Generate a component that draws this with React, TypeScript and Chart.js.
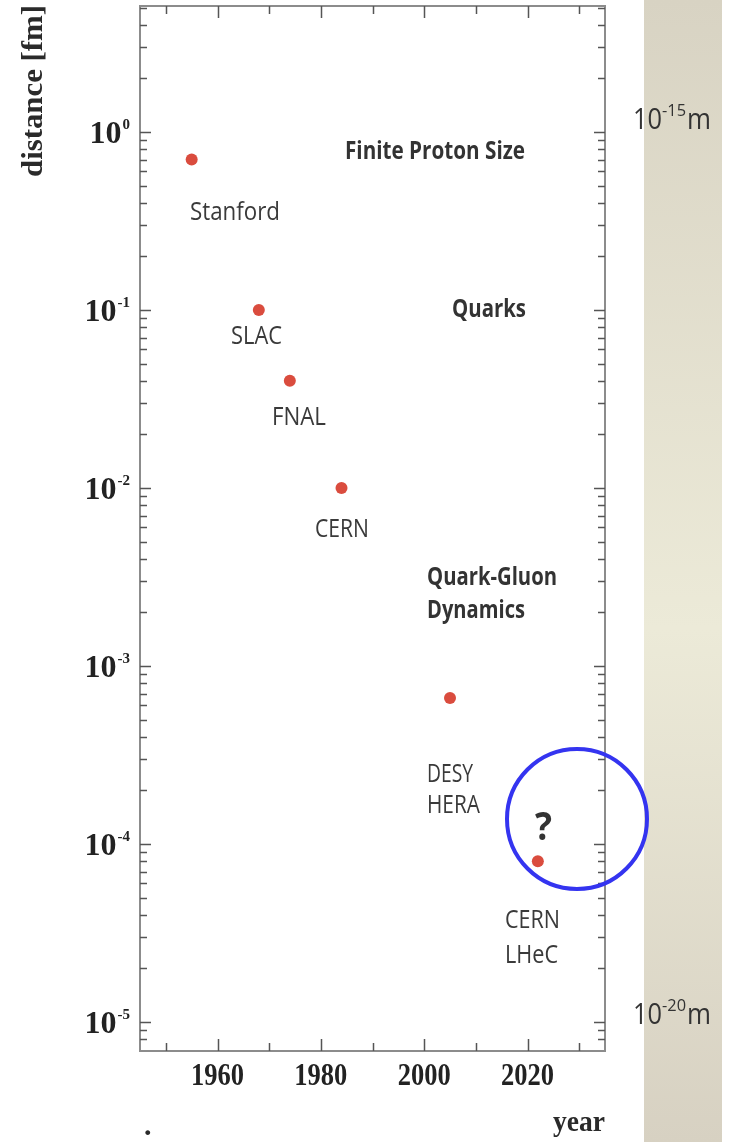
import React, { useEffect, useRef } from "react";
import { Chart, registerables } from "chart.js";

Chart.register(...registerables);

// ---------- data ----------
const experiments = ["Stanford", "SLAC", "FNAL", "CERN", "DESY\nHERA", "CERN\nLHeC"];
const years = [1955, 1968, 1974, 1984, 2005, 2022];
const distancesFm = [0.7, 0.1, 0.04, 0.01, 0.00066, 0.00008];

const xMajorYears = [1960, 1980, 2000, 2020];
const xMinorYears = [1950, 1970, 1990, 2010, 2030];
const xTickLabels = ["1960", "1980", "2000", "2020"];

const yDecades = [1, 0.1, 0.01, 0.001, 0.0001, 0.00001];
const yTickExponents = ["0", "-1", "-2", "-3", "-4", "-5"];
const yMinorMultipliers = [2, 3, 4, 5, 6, 7, 8, 9];

const regionLabels = ["Finite Proton Size", "Quarks", "Quark-Gluon\nDynamics"];
const meterExponents = ["-15", "-20"];

const X_MIN = 1945;
const X_MAX = 2035;
const Y_MIN = 6.87e-6;
const Y_MAX = 5.1;

// ---------- layout (pixels) ----------
const W = 732;
const H = 1142;
const AREA = { left: 140, top: 6, right: 605, bottom: 1051 };

const expLabelLayout = [
  { x: 190, y: [220], w: [90] },
  { x: 231, y: [344], w: [51] },
  { x: 272, y: [425], w: [54] },
  { x: 315, y: [537], w: [54] },
  { x: 427, y: [782, 813], w: [46, 53] },
  { x: 505, y: [928, 963], w: [55, 53] },
];
const regionLayout = [
  { x: 345, y: [159], w: [180] },
  { x: 452, y: [317], w: [74] },
  { x: 427, y: [585, 618], w: [130, 98] },
];
const meterLayout = [{ y: 129 }, { y: 1024 }];

const SANS = "'Open Sans', 'Noto Sans', sans-serif";
const SERIF = "'Liberation Serif', 'DejaVu Serif', serif";

function fitText(
  ctx: CanvasRenderingContext2D,
  text: string,
  x: number,
  y: number,
  font: string,
  color: string,
  width?: number,
  align: CanvasTextAlign = "left"
) {
  ctx.save();
  ctx.font = font;
  const m = ctx.measureText(text).width;
  const sx = width ? width / m : 1;
  ctx.translate(x, y);
  ctx.scale(sx, 1);
  ctx.fillStyle = color;
  ctx.textBaseline = "alphabetic";
  ctx.textAlign = align;
  ctx.fillText(text, 0, 0);
  ctx.restore();
}

const decorPlugin = {
  id: "decor",
  beforeDraw(chart: any) {
    const ctx: CanvasRenderingContext2D = chart.ctx;
    ctx.save();
    ctx.fillStyle = "#ffffff";
    ctx.fillRect(0, 0, W, H);
    // beige side bar
    const g = ctx.createLinearGradient(0, 0, 0, H);
    g.addColorStop(0, "#d8d3c3");
    g.addColorStop(0.55, "#ecead8");
    g.addColorStop(1, "#d7d1c2");
    ctx.fillStyle = g;
    ctx.fillRect(644, 0, 78, H);

    // meter labels
    meterExponents.forEach((e, i) => {
      const by = meterLayout[i].y;
      fitText(ctx, "10", 633, by, `30px ${SANS}`, "#333333", 29);
      fitText(ctx, e, 662, by - 13, `17px ${SANS}`, "#333333", 24);
      fitText(ctx, "m", 687, by, `30px ${SANS}`, "#333333", 24);
    });
    ctx.restore();
  },
  afterDraw(chart: any) {
    const ctx: CanvasRenderingContext2D = chart.ctx;
    const xs = chart.scales.x;
    const ys = chart.scales.y;
    const { left, right, top, bottom } = chart.chartArea;
    ctx.save();

    // frame
    ctx.strokeStyle = "#8c8c8c";
    ctx.lineWidth = 2;
    ctx.strokeRect(left, top, right - left, bottom - top);

    // ticks
    ctx.strokeStyle = "#555555";
    ctx.lineWidth = 1.5;
    const yTick = (v: number, len: number) => {
      const py = Math.round(ys.getPixelForValue(v)) + 0.5;
      if (py < top + 1 || py > bottom - 1) return;
      ctx.beginPath();
      ctx.moveTo(left, py);
      ctx.lineTo(left + len, py);
      ctx.moveTo(right, py);
      ctx.lineTo(right - len, py);
      ctx.stroke();
    };
    yDecades.forEach((d) => yTick(d, 11));
    [10, ...yDecades].forEach((d) => {
      yMinorMultipliers.forEach((m) => {
        const v = (m * d) / 10;
        if (v > Y_MIN && v < Y_MAX) yTick(v, 7);
      });
    });
    const xTick = (v: number, len: number) => {
      const px = Math.round(xs.getPixelForValue(v)) + 0.5;
      ctx.beginPath();
      ctx.moveTo(px, bottom);
      ctx.lineTo(px, bottom - len);
      ctx.moveTo(px, top);
      ctx.lineTo(px, top + len);
      ctx.stroke();
    };
    xMajorYears.forEach((v) => xTick(v, 12));
    xMinorYears.forEach((v) => xTick(v, 8));

    // y tick labels 10^n
    yDecades.forEach((d, i) => {
      const py = ys.getPixelForValue(d);
      const e = yTickExponents[i];
      ctx.font = `bold 15px ${SERIF}`;
      const we = ctx.measureText(e).width;
      const expLeft = 130 - we;
      fitText(ctx, e, expLeft, py - 3, `bold 15px ${SERIF}`, "#222222");
      fitText(ctx, "10", expLeft - 1, py + 11, `bold 32px ${SERIF}`, "#222222", 32, "right");
    });

    // x tick labels
    xMajorYears.forEach((v, i) => {
      const px = xs.getPixelForValue(v);
      fitText(ctx, xTickLabels[i], px, 1085, `bold 32px ${SERIF}`, "#222222", 53, "center");
    });

    // axis titles
    ctx.save();
    ctx.translate(42, 177);
    ctx.rotate(-Math.PI / 2);
    fitText(ctx, "distance [fm]", 0, 0, `bold 30px ${SERIF}`, "#2a2a2a", 172);
    ctx.restore();
    fitText(ctx, "year", 553, 1131, `bold 30px ${SERIF}`, "#2a2a2a", 52);
    fitText(ctx, ".", 144, 1135, `bold 30px ${SERIF}`, "#2a2a2a");

    // experiment labels
    experiments.forEach((name, i) => {
      const lay = expLabelLayout[i];
      name.split("\n").forEach((line, j) => {
        fitText(ctx, line, lay.x, lay.y[j], `25px ${SANS}`, "#3a3a3a", lay.w[j]);
      });
    });
    // region labels
    regionLabels.forEach((name, i) => {
      const lay = regionLayout[i];
      name.split("\n").forEach((line, j) => {
        fitText(ctx, line, lay.x, lay.y[j], `bold 25px ${SANS}`, "#333333", lay.w[j]);
      });
    });
    fitText(ctx, "?", 535, 840, `bold 40px ${SANS}`, "#333333", 17);

    // blue highlight circle
    ctx.beginPath();
    ctx.arc(577, 819, 70, 0, Math.PI * 2);
    ctx.strokeStyle = "#3434f0";
    ctx.lineWidth = 4;
    ctx.stroke();
    ctx.restore();
  },
};

export default function App() {
  const ref = useRef<HTMLCanvasElement | null>(null);
  useEffect(() => {
    if (!ref.current) return;
    const chart = new Chart(ref.current, {
      type: "scatter",
      data: {
        datasets: [
          {
            data: years.map((y, i) => ({ x: y, y: distancesFm[i] })),
            backgroundColor: "#da4c3e",
            borderWidth: 0,
            pointRadius: 6,
          },
        ],
      },
      options: {
        responsive: false,
        animation: false,
        events: [],
        layout: {
          padding: { left: AREA.left, top: AREA.top, right: W - AREA.right, bottom: H - AREA.bottom },
        },
        plugins: { legend: { display: false }, tooltip: { enabled: false } },
        scales: {
          x: { type: "linear", min: X_MIN, max: X_MAX, display: false },
          y: { type: "logarithmic", min: Y_MIN, max: Y_MAX, display: false },
        },
      },
      plugins: [decorPlugin],
    });
    return () => chart.destroy();
  }, []);
  return (
    <div style={{ position: "absolute", left: 0, top: 0, width: W, height: H }}>
      <canvas ref={ref} width={W} height={H} style={{ display: "block", width: W, height: H }} />
    </div>
  );
}
